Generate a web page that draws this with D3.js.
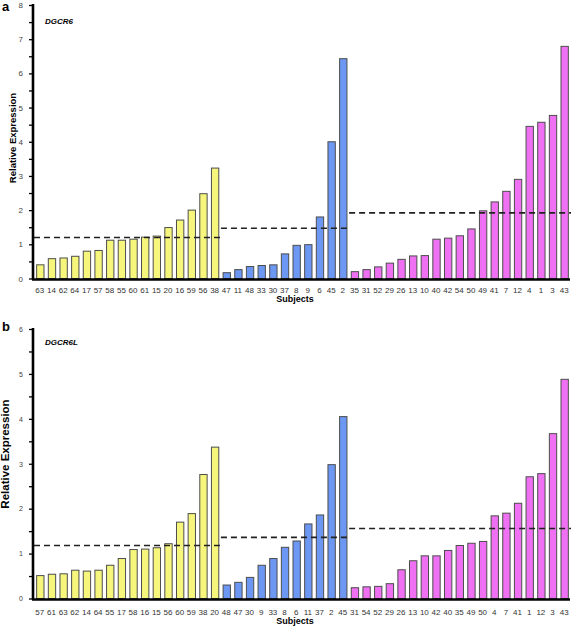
<!DOCTYPE html>
<html><head><meta charset="utf-8">
<script src="https://cdn.jsdelivr.net/npm/d3@7"></script>
<style>body{margin:0;background:#fff}svg{display:block}text{font-family:"Liberation Sans",Arial,sans-serif}</style>
</head><body>
<script>
// ---- data ----
const groupNames = ["g1","g2","g3"];
const groupColors = ["#f6f67c","#6c97f2","#ef70f2"];

const aYellowSubjects = ["63","14","62","64","17","57","58","55","60","61","15","20","16","59","56","38"];
const aYellowValues   = [0.40,0.58,0.60,0.65,0.80,0.82,1.12,1.12,1.15,1.21,1.24,1.49,1.71,2.00,2.48,3.23];
const aBlueSubjects   = ["47","11","48","33","30","37","8","9","6","45","2"];
const aBlueValues     = [0.17,0.26,0.35,0.38,0.40,0.72,0.97,0.99,1.80,4.00,6.43];
const aPinkSubjects   = ["35","31","52","29","26","13","10","40","42","54","50","49","41","7","12","4","1","3","43"];
const aPinkValues     = [0.20,0.26,0.34,0.45,0.56,0.66,0.67,1.15,1.18,1.25,1.45,1.98,2.24,2.55,2.90,4.45,4.57,4.77,6.79];
const aMeans          = [1.20,1.47,1.92];

const bYellowSubjects = ["57","61","63","62","14","64","55","17","58","16","15","56","60","59","38","20"];
const bYellowValues   = [0.51,0.54,0.55,0.63,0.61,0.63,0.74,0.89,1.09,1.10,1.13,1.22,1.70,1.89,2.76,3.37];
const bBlueSubjects   = ["48","47","30","9","33","8","6","11","37","2","45"];
const bBlueValues     = [0.30,0.36,0.47,0.74,0.89,1.14,1.28,1.66,1.86,2.98,4.05];
const bPinkSubjects   = ["31","54","52","29","26","13","10","42","40","35","49","50","4","7","41","1","12","3","43"];
const bPinkValues     = [0.24,0.26,0.27,0.33,0.64,0.84,0.95,0.95,1.07,1.18,1.23,1.27,1.84,1.90,2.12,2.71,2.78,3.67,4.88];
const bMeans          = [1.18,1.36,1.56];

const aTicks = [0,1,2,3,4,5,6,7,8];
const bTicks = [0,1,2,3,4,5,6];

const W = 571, H = 629;
const svg = d3.select("body").append("svg").attr("width", W).attr("height", H);

function panel(cfg) {
  const groups = [
    {subj: cfg.ys, val: cfg.yv, color: groupColors[0]},
    {subj: cfg.bs, val: cfg.bv, color: groupColors[1]},
    {subj: cfg.ps, val: cfg.pv, color: groupColors[2]}
  ];
  const rows = [];
  groups.forEach((g, gi) => g.subj.forEach((s, i) => rows.push({key: gi + "_" + s, label: s, v: g.val[i], color: g.color, gi})));

  const xEnd = 570;
  const x = d3.scaleBand().domain(rows.map(d => d.key)).range([34, xEnd]).paddingInner(0.37).paddingOuter(0.185);
  const y = d3.scaleLinear().domain([0, cfg.max]).range([cfg.y0, cfg.yTop]);
  const g = svg.append("g");

  // bars
  g.selectAll("rect.bar").data(rows).join("rect")
    .attr("x", d => x(d.key) + 0.5).attr("y", d => y(d.v))
    .attr("width", x.bandwidth()).attr("height", d => y(0) - y(d.v))
    .attr("fill", d => d.color).attr("stroke", "#4d4d4d").attr("stroke-width", 1);

  // mean dashed lines
  const step = x.step(), gap = step - x.bandwidth();
  let start = 34;
  groups.forEach((grp, gi) => {
    const last = rows.filter(r => r.gi === gi).slice(-1)[0];
    const end = gi === 2 ? 571 : x(last.key) + x.bandwidth() + gap / 2 + 0.5;
    g.append("line").attr("x1", start).attr("x2", end)
      .attr("y1", y(cfg.means[gi])).attr("y2", y(cfg.means[gi]))
      .attr("stroke", "#222").attr("stroke-width", 1.6).attr("stroke-dasharray", "6,4");
    start = end;
  });

  // y axis
  const minor = d3.range(0, cfg.max + 0.001, 0.5);
  const yAxis = d3.axisLeft(y).tickValues(minor).tickSize(4)
    .tickFormat(d => cfg.ticks.includes(d) ? d3.format("d")(d) : "");
  const ya = g.append("g").attr("transform", "translate(33,0)").call(yAxis);
  ya.select(".domain").attr("stroke", "#000").attr("stroke-width", 2.6).attr("d", `M0,${cfg.y0 + 1}V${cfg.yTop - 1}`);
  ya.selectAll(".tick line").attr("stroke", "#000").attr("stroke-width", 1.3);
  ya.selectAll(".tick text").attr("x", -10).attr("font-size", cfg.tickFs).attr("fill", "#444");

  // x axis
  const xAxis = d3.axisBottom(x).tickSize(0).tickFormat(k => rows.find(r => r.key === k).label);
  const xa = g.append("g").attr("transform", `translate(0,${cfg.y0})`).call(xAxis);
  xa.select(".domain").attr("stroke", "#000").attr("stroke-width", 2.6).attr("d", `M32,1H${xEnd}`);
  xa.selectAll(".tick text").attr("y", cfg.xLabDy).attr("dy", 0).attr("font-size", 8).attr("fill", "#333");

  // titles
  g.append("text").attr("x", 295).attr("y", cfg.subjY).attr("text-anchor", "middle")
    .attr("font-size", 9).attr("font-weight", "bold").text("Subjects");
  g.append("text").attr("transform", `translate(${cfg.ylabX},${cfg.ylabY}) rotate(-90)`)
    .attr("text-anchor", "middle").attr("font-size", cfg.ylabFs).attr("font-weight", "bold").text("Relative Expression");
  g.append("text").attr("x", 45).attr("y", cfg.geneY).attr("font-size", 8)
    .attr("font-weight", "bold").attr("font-style", "italic").text(cfg.gene);
  g.append("text").attr("x", 2).attr("y", cfg.letterY).attr("font-size", 13)
    .attr("font-weight", "bold").text(cfg.letter);
}

panel({ys: aYellowSubjects, yv: aYellowValues, bs: aBlueSubjects, bv: aBlueValues, ps: aPinkSubjects, pv: aPinkValues,
  means: aMeans, ticks: aTicks, max: 8, y0: 278.5, yTop: 5, tickFs: 8, xLabDy: 14, subjY: 302,
  ylabX: 16, ylabY: 138, ylabFs: 9.5, gene: "DGCR6", geneY: 24, letter: "a", letterY: 11});
panel({ys: bYellowSubjects, yv: bYellowValues, bs: bBlueSubjects, bv: bBlueValues, ps: bPinkSubjects, pv: bPinkValues,
  means: bMeans, ticks: bTicks, max: 6, y0: 598.5, yTop: 329, tickFs: 7, xLabDy: 16, subjY: 624,
  ylabX: 9, ylabY: 454, ylabFs: 11.5, gene: "DGCR6L", geneY: 345, letter: "b", letterY: 331});
</script>
</body></html>
